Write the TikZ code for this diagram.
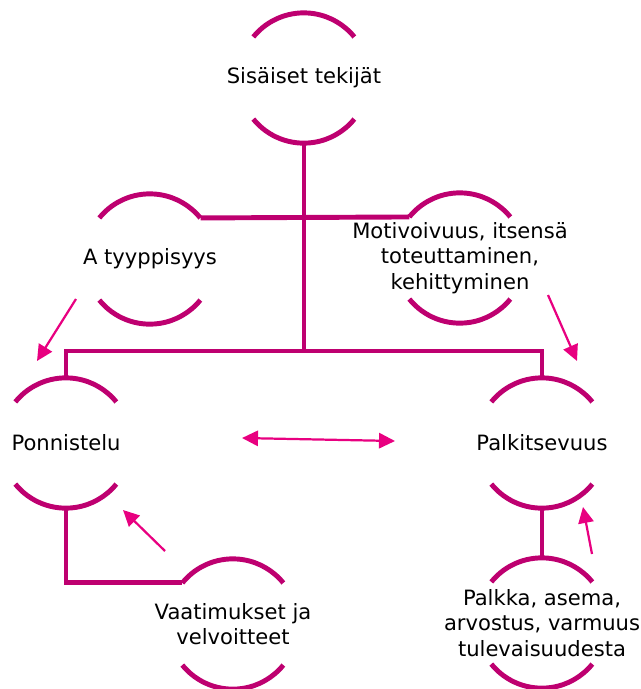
\documentclass[tikz,border=0pt]{standalone}
\usepackage{fontspec}
\setmainfont{DejaVu Sans}
\usetikzlibrary{arrows.meta}
\definecolor{barcol}{RGB}{190,0,112}
\definecolor{arrcol}{RGB}{232,0,128}

\begin{document}
\begin{tikzpicture}[x=0.03cm, y={(0cm,-0.03cm)},
    topic/.style={circle, minimum size=3.9cm, inner sep=0pt},
    lab/.style={align=center, inner sep=0pt, font=\fontsize{18}{21.5}\selectfont},
    bar/.style={draw=barcol, line width=4.2pt},
    arr/.style={draw=arrcol, line width=1.9pt, -{Triangle[length=0.48cm, width=0.46cm]}},
    arrboth/.style={arr, {Triangle[length=0.48cm, width=0.46cm]}-{Triangle[length=0.48cm, width=0.46cm]}}]

    \useasboundingbox (0,0) rectangle (641,689);

    \node[topic, label={[lab]center:{Sisäiset tekijät}}] (S) at (304,78) {};
    \node[topic, label={[lab]center:{A tyyppisyys}}] (A) at (150,259) {};
    \node[topic, label={[lab]center:{Motivoivuus, itsensä\\toteuttaminen,\\kehittyminen}}] (M) at (460,258) {};
    \node[topic, label={[lab]center:{Ponnistelu}}] (P) at (66,443) {};
    \node[topic, label={[lab]center:{Palkitsevuus}}] (K) at (542,443) {};
    \node[topic, label={[lab]center:{Vaatimukset ja\\velvoitteet}}] (V) at (233,624) {};
    \node[topic, label={[lab]center:{Palkka, asema,\\arvostus, varmuus\\tulevaisuudesta}}] (L) at (542,623) {};

    % half circles round the texts
    \foreach \n in {S,A,M,P,K,V,L} {
        \draw[bar] (\n.141) arc[start angle=141, end angle=39, radius=1.95cm];
        \draw[bar] (\n.219) arc[start angle=219, end angle=321, radius=1.95cm];
    }

    \coordinate (bar) at (304,351);
    \draw[bar] (S.south) -- (bar);
    \draw[bar] (P.north) |- (bar) -| (K.north);
    \draw[bar] (A.39) -- (M.141);
    \draw[bar] (P.south) |- (V.141);
    \draw[bar] (K.south) -- (L.north);

    % arrows
    \coordinate (a1) at (76,299);  \coordinate (p1) at (37,361);
    \coordinate (m1) at (548,295); \coordinate (k1) at (577,361);
    \coordinate (v1) at (165,551); \coordinate (p2) at (123,510);
    \coordinate (l1) at (592,554); \coordinate (k2) at (583,507);
    \coordinate (p3) at (242,438); \coordinate (k3) at (395,441);
    \draw[arr] (a1) -- (p1);
    \draw[arr] (m1) -- (k1);
    \draw[arr] (v1) -- (p2);
    \draw[arr] (l1) -- (k2);
    \draw[arrboth] (p3) -- (k3);

\end{tikzpicture}
\end{document}
